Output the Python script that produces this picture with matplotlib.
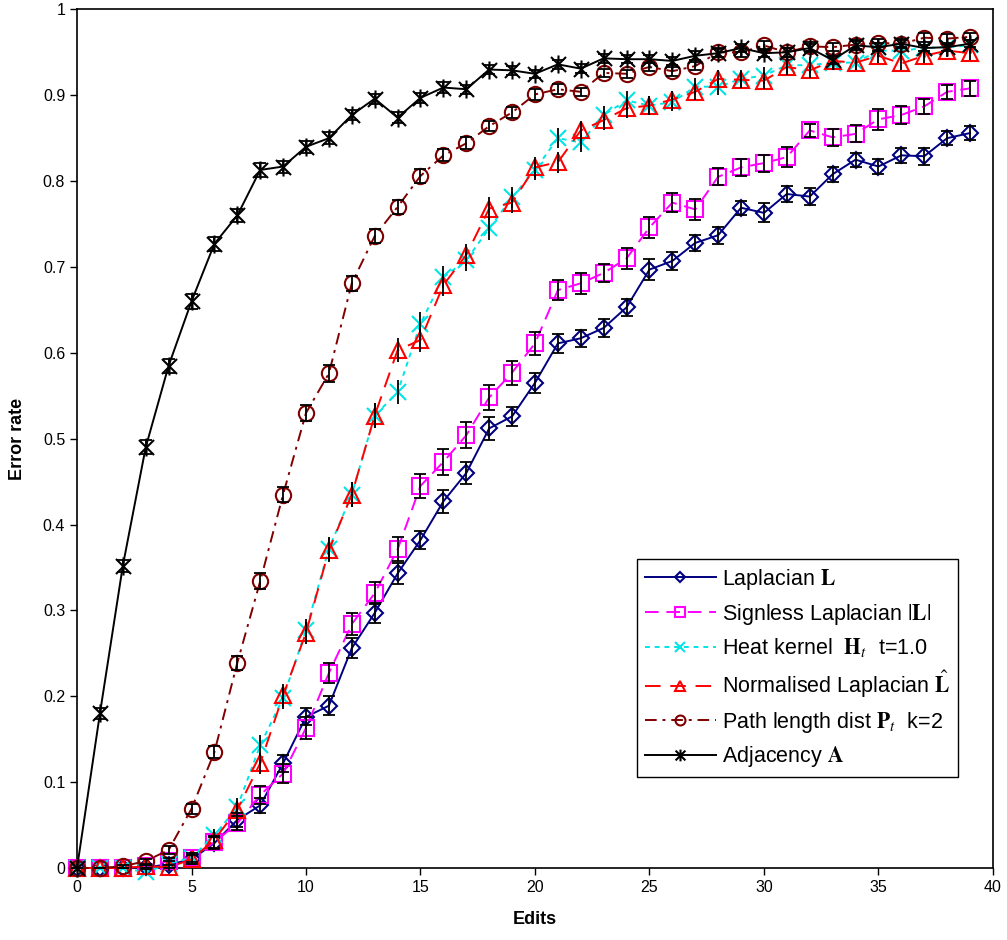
import matplotlib
matplotlib.use('Agg')
import matplotlib.pyplot as plt
from matplotlib.path import Path
import numpy as np

plt.rcParams['font.family'] = ['Liberation Sans', 'DejaVu Sans']
plt.rcParams['mathtext.fontset'] = 'stix'

# DATA
edits = list(range(40))

laplacian = [0, 0, 0, 0.001, 0.004, 0.01, 0.029, 0.056, 0.073, 0.122,
             0.176, 0.189, 0.256, 0.297, 0.343, 0.382, 0.427, 0.46, 0.512, 0.526,
             0.565, 0.611, 0.617, 0.629, 0.653, 0.697, 0.707, 0.728, 0.737, 0.769,
             0.763, 0.785, 0.782, 0.808, 0.825, 0.817, 0.83, 0.829, 0.85, 0.856]
laplacian_err = [0, 0, 0, 0.002, 0.004, 0.005, 0.007, 0.008, 0.009, 0.01,
                 0.01, 0.011, 0.012, 0.012, 0.012, 0.01, 0.013, 0.013, 0.013, 0.011,
                 0.012, 0.011, 0.01, 0.01, 0.01, 0.012, 0.011, 0.009, 0.01, 0.008,
                 0.011, 0.009, 0.01, 0.009, 0.008, 0.009, 0.009, 0.01, 0.008, 0.008]

signless = [0, 0, 0, 0.002, 0.008, 0.012, 0.03, 0.052, 0.085, 0.11,
            0.163, 0.227, 0.284, 0.32, 0.371, 0.445, 0.473, 0.504, 0.548, 0.577,
            0.611, 0.673, 0.681, 0.693, 0.71, 0.746, 0.775, 0.767, 0.805, 0.816,
            0.821, 0.828, 0.859, 0.851, 0.855, 0.872, 0.877, 0.887, 0.904, 0.908]
signless_err = [0, 0, 0, 0.002, 0.004, 0.005, 0.007, 0.008, 0.01, 0.011,
                0.013, 0.012, 0.013, 0.013, 0.014, 0.014, 0.015, 0.015, 0.015, 0.014,
                0.013, 0.012, 0.012, 0.01, 0.012, 0.012, 0.011, 0.012, 0.01, 0.01,
                0.01, 0.012, 0.008, 0.01, 0.01, 0.012, 0.01, 0.009, 0.008, 0.009]

heat = [0, 0, 0, -0.005, 0.005, 0.012, 0.038, 0.071, 0.143, 0.198,
        0.277, 0.372, 0.435, 0.527, 0.554, 0.634, 0.688, 0.708, 0.745, 0.781,
        0.813, 0.85, 0.845, 0.877, 0.894, 0.888, 0.892, 0.91, 0.91, 0.919,
        0.923, 0.935, 0.935, 0.938, 0.938, 0.952, 0.952, 0.955, 0.956, 0.958]
heat_err = [0, 0, 0, 0.003, 0.004, 0.006, 0.008, 0.01, 0.012, 0.013,
            0.013, 0.014, 0.014, 0.014, 0.014, 0.014, 0.013, 0.013, 0.013, 0.012,
            0.012, 0.012, 0.011, 0.011, 0.011, 0.011, 0.01, 0.01, 0.01, 0.01,
            0.01, 0.009, 0.009, 0.009, 0.009, 0.008, 0.008, 0.008, 0.008, 0.008]

normalised = [0, 0, 0, 0.002, 0.001, 0.01, 0.033, 0.068, 0.122, 0.201,
              0.274, 0.37, 0.435, 0.527, 0.603, 0.615, 0.679, 0.714, 0.768, 0.775,
              0.816, 0.822, 0.859, 0.871, 0.885, 0.888, 0.895, 0.904, 0.919, 0.918,
              0.917, 0.933, 0.929, 0.94, 0.938, 0.946, 0.937, 0.946, 0.952, 0.949]
normalised_err = [0, 0, 0, 0.003, 0.004, 0.006, 0.008, 0.01, 0.012, 0.013,
                  0.013, 0.014, 0.014, 0.014, 0.014, 0.014, 0.013, 0.013, 0.013, 0.012,
                  0.012, 0.012, 0.011, 0.011, 0.011, 0.011, 0.01, 0.01, 0.01, 0.01,
                  0.01, 0.009, 0.009, 0.009, 0.009, 0.008, 0.008, 0.008, 0.008, 0.008]

path_len = [0, 0, 0.002, 0.008, 0.021, 0.069, 0.135, 0.239, 0.334, 0.435,
            0.53, 0.576, 0.681, 0.736, 0.77, 0.806, 0.83, 0.844, 0.864, 0.88,
            0.901, 0.907, 0.904, 0.926, 0.925, 0.933, 0.928, 0.934, 0.95, 0.95,
            0.958, 0.95, 0.957, 0.956, 0.959, 0.961, 0.96, 0.967, 0.966, 0.968]
path_len_err = [0, 0, 0.002, 0.003, 0.005, 0.006, 0.007, 0.008, 0.009, 0.009,
                0.009, 0.01, 0.009, 0.008, 0.008, 0.008, 0.007, 0.007, 0.006, 0.006,
                0.006, 0.006, 0.005, 0.005, 0.005, 0.005, 0.005, 0.005, 0.005, 0.005,
                0.005, 0.005, 0.005, 0.005, 0.005, 0.005, 0.005, 0.005, 0.005, 0.004]

adjacency = [0, 0.18, 0.352, 0.49, 0.585, 0.66, 0.727, 0.76, 0.813, 0.817,
             0.84, 0.85, 0.877, 0.896, 0.874, 0.897, 0.909, 0.907, 0.93, 0.929,
             0.925, 0.936, 0.931, 0.943, 0.942, 0.942, 0.94, 0.946, 0.949, 0.955,
             0.949, 0.95, 0.955, 0.941, 0.958, 0.956, 0.96, 0.955, 0.956, 0.96]
adjacency_err = [0, 0.006, 0.007, 0.008, 0.008, 0.009, 0.008, 0.008, 0.008, 0.007,
                 0.007, 0.007, 0.006, 0.006, 0.006, 0.006, 0.006, 0.005, 0.005, 0.005,
                 0.005, 0.005, 0.005, 0.005, 0.005, 0.005, 0.005, 0.005, 0.005, 0.005,
                 0.005, 0.005, 0.005, 0.005, 0.005, 0.005, 0.004, 0.004, 0.004, 0.004]

labels = [r'Laplacian $\mathbf{L}$',
          r'Signless Laplacian $\left|\mathbf{L}\right|$',
          r'Heat kernel  $\mathbf{H}_t$  t=1.0',
          r'Normalised Laplacian $\hat{\mathbf{L}}$',
          r'Path length dist $\mathbf{P}_t$  k=2',
          r'Adjacency $\mathbf{A}$']

# excel style star marker: X with a vertical bar
STAR = Path([(-1, -1), (1, 1), (-1, 1), (1, -1), (0, -1.2), (0, 1.2)],
            [Path.MOVETO, Path.LINETO, Path.MOVETO, Path.LINETO, Path.MOVETO, Path.LINETO])

series = [
    (laplacian, laplacian_err, '#000080', '-', 'D', 8, 4),
    (signless, signless_err, '#FF00FF', (0, (7, 4)), 's', 11, 4),
    (heat, heat_err, '#00E5E5', (0, (2.5, 2.5)), 'x', 11, 0),
    (normalised, normalised_err, '#FF0000', (0, (8, 5)), '^', 12, 0),
    (path_len, path_len_err, '#800000', (0, (6, 3, 1.5, 3)), 'o', 11, 4),
    (adjacency, adjacency_err, '#000000', '-', STAR, 13, 4),
]

fig = plt.figure(figsize=(10.07, 9.4), dpi=100)
ax = fig.add_axes([0.0765, 0.0766, 0.9095, 0.9134])

for (vals, errs, col, ls, mk, ms, cap), lab in zip(series, labels):
    ax.plot(edits, vals, color=col, linestyle=ls, linewidth=1.4,
            marker=mk, markersize=ms, markerfacecolor='none',
            markeredgecolor=col, markeredgewidth=1.5, label=lab,
            clip_on=False, zorder=3)
    ax.errorbar(edits, vals, yerr=errs, fmt='none', ecolor='black',
                elinewidth=1.3, capsize=cap, capthick=1.3, zorder=4, clip_on=False)

ax.set_xlim(0, 40)
ax.set_ylim(0, 1)
ax.set_xticks(range(0, 41, 5))
ax.set_yticks(np.arange(0, 1.01, 0.1))
ax.set_yticklabels(['0', '0.1', '0.2', '0.3', '0.4', '0.5', '0.6', '0.7', '0.8', '0.9', '1'])
ax.tick_params(labelsize=11.5, direction='out', length=5, width=1)
ax.set_xlabel('Edits', fontsize=13, fontweight='bold', labelpad=12)
ax.set_ylabel('Error rate', fontsize=13, fontweight='bold', labelpad=12)
for s in ax.spines.values():
    s.set_linewidth(1.2)

leg = ax.legend(loc='lower right', bbox_to_anchor=(0.962, 0.106), fontsize=15.5,
                fancybox=False, edgecolor='black', framealpha=1, markerscale=0.65,
                handlelength=3.3, handletextpad=0.3, labelspacing=0.45,
                borderpad=0.35, borderaxespad=0)
leg.get_frame().set_linewidth(1.0)

fig.savefig('out.png', dpi=100)
